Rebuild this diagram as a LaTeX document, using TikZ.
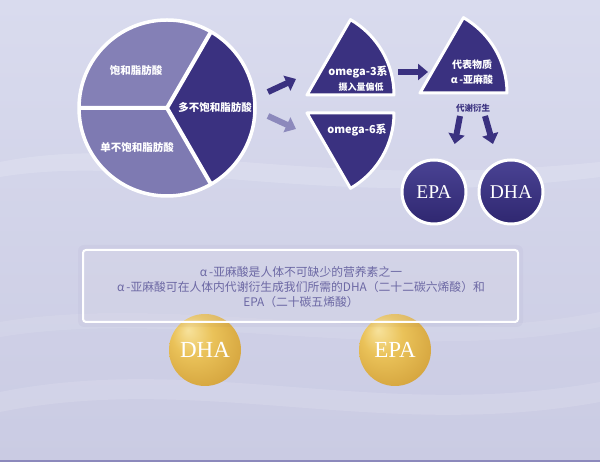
\documentclass[tikz,border=0pt]{standalone}
\usepackage{fontspec}
\setmainfont{Liberation Serif}
\newfontfamily\cjk{Noto Sans CJK SC}
\usepackage{tikz}
\usetikzlibrary{arrows.meta}
\usetikzlibrary{positioning}
\usepackage{xcolor}

\definecolor{navy}{HTML}{3A3180}
\definecolor{navyhi}{HTML}{4A4394}
\definecolor{navylo}{HTML}{2F2770}
\definecolor{lilac}{HTML}{8480B6}
\definecolor{lilacb}{HTML}{7E7AB2}
\definecolor{greyarrow}{HTML}{8C89BC}
\definecolor{txtgrey}{HTML}{6C68A4}
\definecolor{bgtop}{HTML}{D9DBEE}
\definecolor{bgbot}{HTML}{CACBE3}
\definecolor{goldhi}{HTML}{F7E29C}
\definecolor{goldmid}{HTML}{EAC259}
\definecolor{goldlo}{HTML}{C8932E}

\pgfdeclareradialshading{goldshade}{\pgfpoint{-12bp}{14bp}}{color(0bp)=(goldhi); color(14bp)=(goldmid); color(44bp)=(goldlo); color(50bp)=(goldlo)}

\begin{document}
\begin{tikzpicture}[x=1pt, y=1pt, >={Triangle[length=10pt, width=16pt]}]
\tikzstyle{sector} = [fill=navy, draw=white, line width=3pt, line join=round]
\tikzstyle{wtext} = [text=white, inner sep=0pt, font=\cjk\bfseries\fontsize{10.5}{12}\selectfont]
\tikzstyle{block} = [->, line width=6pt, navy]
\tikzstyle{navyball} = [circle, draw=white, line width=3pt, minimum size=64pt, inner sep=0pt, top color=navyhi, bottom color=navylo, text=white, font=\fontsize{19.5}{20}\selectfont]
\tikzstyle{goldball} = [circle, minimum size=72pt, inner sep=0pt, shading=goldshade, text=white, font=\fontsize{23}{24}\selectfont]
\tikzstyle{infotext} = [text=txtgrey, inner sep=0pt, font=\cjk\fontsize{11.8}{13}\selectfont]

% background
\useasboundingbox (0,0) rectangle (600,462);
\fill[top color=bgtop, bottom color=bgbot] (0,0) rectangle (600,462);
\fill[white, opacity=0.15] (0,300) .. controls (150,330) and (300,270) .. (600,300) -- (600,285) .. controls (320,250) and (150,310) .. (0,285) -- cycle;
\fill[white, opacity=0.12] (0,70) .. controls (200,110) and (380,40) .. (600,80) -- (600,60) .. controls (380,20) and (200,90) .. (0,50) -- cycle;
\fill[white, opacity=0.1] (0,140) .. controls (180,170) and (400,110) .. (600,150) -- (600,135) .. controls (400,95) and (180,155) .. (0,125) -- cycle;
\fill[greyarrow] (0,0) rectangle (600,2);

% pie
\coordinate (O) at (167,354);
\fill[navy] (O) -- ++(-60:88) arc (-60:60:88) -- cycle;
\fill[lilac] (O) -- ++(60:88) arc (60:180:88) -- cycle;
\fill[lilacb] (O) -- ++(180:88) arc (180:300:88) -- cycle;
\draw[white, line width=3.5pt] (O) circle (88);
\draw[white, line width=4pt] (O) -- ++(60:88) (O) -- ++(180:88) (O) -- ++(300:88);

\node[wtext] (S) at (136,392) {饱和脂肪酸};
\node[wtext] (M) at (137,315) {单不饱和脂肪酸};
\node[wtext] (P) at (215,355) {多不饱和脂肪酸};

% omega sectors
\draw[sector] (307,367) -- ++(0:87) arc (0:60:87) -- cycle;
\draw[sector] (307,349) -- ++(0:87) arc (0:-60:87) -- cycle;
\draw[sector] (420,369) -- ++(0:87) arc (0:60:87) -- cycle;

\node[wtext, font=\cjk\bfseries\fontsize{11}{13}\selectfont] (W3) at (358,390) {omega-3系};
\node[wtext, font=\cjk\bfseries\fontsize{9}{10}\selectfont, below=4pt of W3.south, xshift=3pt] (W3b) {摄入量偏低};
\node[wtext, font=\cjk\bfseries\fontsize{11}{13}\selectfont] (W6) at (357,332) {omega-6系};
\node[wtext, font=\cjk\bfseries\fontsize{10}{12}\selectfont] (R) at (472,397) {代表物质};
\node[wtext, font=\cjk\bfseries\fontsize{10}{12}\selectfont, below=5pt of R.south] (Ra) {α\,-亚麻酸};
\node[wtext, text=navy, font=\cjk\bfseries\fontsize{8.5}{10}\selectfont] (D) at (473,354) {代谢衍生};

% arrows
\coordinate (a1) at (268,370);
\coordinate (a2) at (296,383);
\coordinate (b1) at (268,346);
\coordinate (b2) at (296,333);
\coordinate (c1) at (398,390);
\coordinate (c2) at (428,390);
\draw[block] (a1) -- (a2);
\draw[block, greyarrow] (b1) -- (b2);
\draw[block] (c1) -- (c2);
\coordinate (d1) at (460,346);
\coordinate (e1) at (485,346);

% derived acids
\node[navyball] (E) at (434,270) {EPA};
\node[navyball] (H) at (511,270) {DHA};
\draw[block] (d1) -- ([xshift=-3pt]E.north east |- 0,318);
\draw[block] (e1) -- ([xshift=-18pt]H.north |- 0,318);

% gold capsules
\node[goldball] (G1) at (205,112) {DHA};
\node[goldball] (G2) at (395,112) {EPA};

% info box
\fill[navy, opacity=0.03, rounded corners=6pt] (78,135) rectangle (523,217);
\draw[white, line width=2pt, rounded corners=3pt, fill=white, fill opacity=0.14] (83,140) rectangle (518,212);
\node[infotext] (T1) at (301,190) {α\,-亚麻酸是人体不可缺少的营养素之一};
\node[infotext, below=3.5pt of T1.south] (T2) {α\,-亚麻酸可在人体内代谢衍生成我们所需的DHA（二十二碳六烯酸）和};
\node[infotext, below=3.5pt of T2.south] (T3) {EPA（二十碳五烯酸）};

\end{tikzpicture}
\end{document}
